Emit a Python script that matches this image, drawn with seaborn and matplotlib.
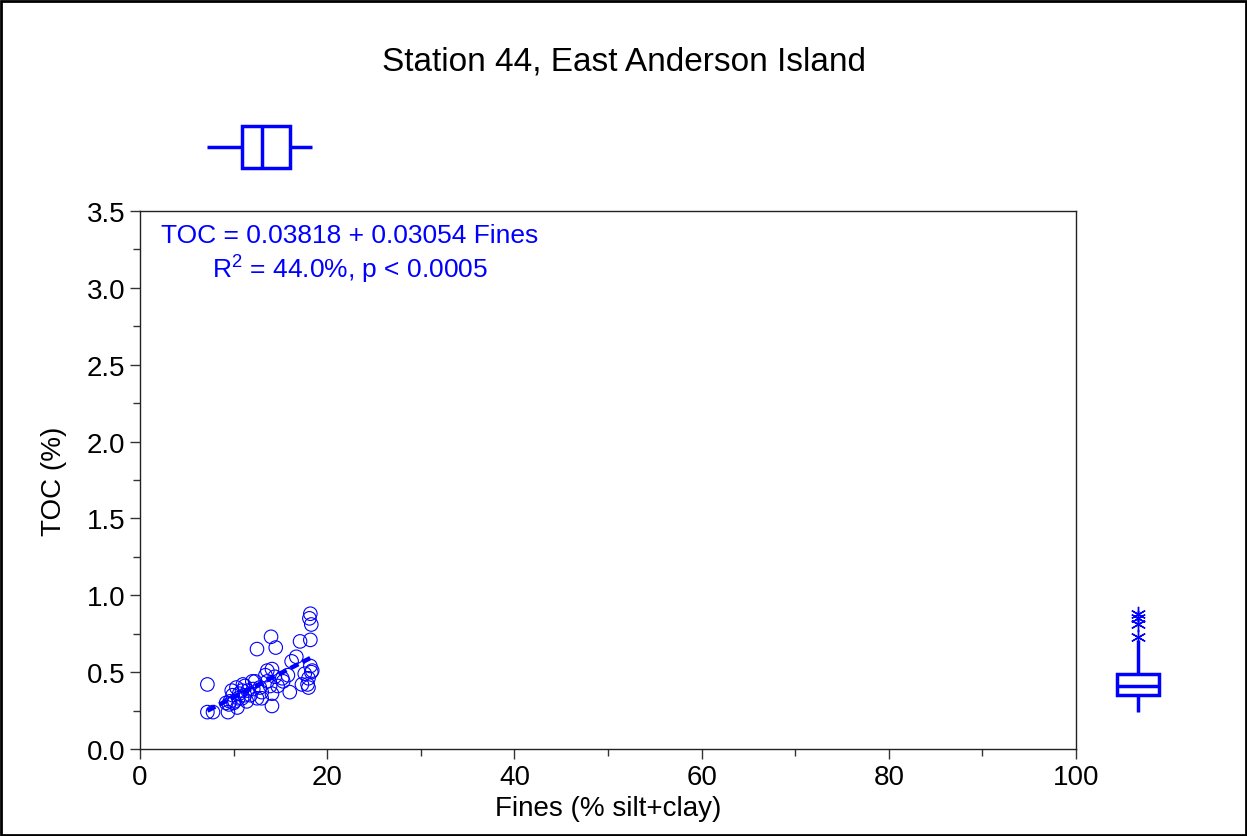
import numpy as np
import pandas as pd
import matplotlib
matplotlib.use("Agg")
import matplotlib.pyplot as plt
from matplotlib.ticker import MultipleLocator, FormatStrFormatter
from matplotlib.patches import Rectangle
import seaborn as sns

# Fines (% silt+clay) and TOC (%)
fines = [18.2, 18.1, 18.3, 18.2, 17.1, 14.0, 14.5, 12.5, 16.7, 16.2,
         18.2, 18.3, 18.0, 18.0, 13.6, 14.1, 7.2, 17.3, 16.0, 14.1,
         14.1, 7.2, 7.8, 9.4, 10.4, 10.5, 11.2, 11.5, 12.0, 12.3,
         13.0, 13.0, 12.8, 15.2, 14.7, 15.3, 11.2, 10.9, 9.9, 9.6,
         10.1, 11.8, 13.9, 14.4, 17.6, 18.4, 17.9, 13.4, 13.6, 12.1,
         12.5, 11.4, 10.9, 15.8, 9.5, 9.8, 10.3, 10.6, 11.0, 9.2,
         10.0]
toc = [0.88, 0.85, 0.81, 0.71, 0.70, 0.73, 0.66, 0.65, 0.60, 0.57,
       0.54, 0.50, 0.46, 0.40, 0.51, 0.52, 0.42, 0.42, 0.37, 0.28,
       0.36, 0.24, 0.24, 0.24, 0.27, 0.33, 0.35, 0.38, 0.44, 0.44,
       0.37, 0.33, 0.40, 0.46, 0.41, 0.44, 0.41, 0.38, 0.35, 0.31,
       0.31, 0.35, 0.41, 0.47, 0.49, 0.51, 0.42, 0.48, 0.44, 0.39,
       0.33, 0.31, 0.33, 0.48, 0.29, 0.38, 0.40, 0.36, 0.42, 0.30,
       0.30]

df = pd.DataFrame({"Fines": fines, "TOC": toc})

title = "Station 44, East Anderson Island"
eq_text = "TOC = 0.03818 + 0.03054 Fines"
r2_text = "R$^2$ = 44.0%, p < 0.0005"
blue = "#0000FF"

sns.set_theme(style="ticks")
plt.rcParams["font.family"] = ["Liberation Sans", "DejaVu Sans"]
plt.rcParams["mathtext.fontset"] = "custom"
plt.rcParams["mathtext.rm"] = "Liberation Sans"
plt.rcParams["text.color"] = "black"
plt.rcParams["axes.labelcolor"] = "black"
plt.rcParams["xtick.color"] = "black"
plt.rcParams["ytick.color"] = "black"

W, H = 1247, 837
fig = plt.figure(figsize=(W / 100, H / 100), dpi=100)
fig.patch.set_facecolor("white")

def box(l, t, r, b):
    return [l / W, 1 - b / H, (r - l) / W, (b - t) / H]

ax = fig.add_axes(box(140, 212, 1076, 750))
ax_top = fig.add_axes(box(140, 118, 1076, 178), sharex=ax)
ax_right = fig.add_axes(box(1108, 212, 1168, 750), sharey=ax)

# main scatter + fitted line
sns.scatterplot(data=df, x="Fines", y="TOC", ax=ax, marker="o", s=95,
                facecolors="none", edgecolor=blue, linewidth=0.8, legend=False)
sns.regplot(data=df, x="Fines", y="TOC", ax=ax, scatter=False, ci=None,
            truncate=True, color=blue,
            line_kws={"linestyle": (0, (2, 1)), "linewidth": 3.2})

ax.set_xlim(0, 100)
ax.set_ylim(0, 3.5)
ax.xaxis.set_major_locator(MultipleLocator(20))
ax.xaxis.set_minor_locator(MultipleLocator(10))
ax.yaxis.set_major_locator(MultipleLocator(0.5))
ax.yaxis.set_minor_locator(MultipleLocator(0.25))
ax.yaxis.set_major_formatter(FormatStrFormatter("%.1f"))
ax.tick_params(which="major", length=7, width=1, labelsize=20, color="#333333")
ax.tick_params(which="minor", length=5, width=1, color="#333333")
ax.set_xlabel("Fines (% silt+clay)", fontsize=20, labelpad=4)
ax.set_ylabel("TOC (%)", fontsize=20, labelpad=14)
for sp in ax.spines.values():
    sp.set_visible(True)
    sp.set_color("#222222")
    sp.set_linewidth(1)

ax.text(0.224, 0.955, eq_text, transform=ax.transAxes, ha="center", va="center",
        fontsize=19, color=blue)
ax.text(0.224, 0.895, r2_text, transform=ax.transAxes, ha="center", va="center",
        fontsize=19, color=blue)

# marginal boxplots
bp_props = dict(
    boxprops={"facecolor": "white", "edgecolor": blue, "linewidth": 2.5},
    whiskerprops={"color": blue, "linewidth": 2.5},
    capprops={"linewidth": 0},
    medianprops={"color": blue, "linewidth": 2.5},
    flierprops={"marker": (6, 2, 0), "markeredgecolor": blue,
                "markersize": 11, "markeredgewidth": 1},
)
sns.boxplot(x=df["Fines"], ax=ax_top, orient="h", width=0.7, whis=1.5, **bp_props)
ax_top.set_axis_off()

sns.boxplot(y=df["TOC"], ax=ax_right, orient="v", width=0.7, whis=1.6, **bp_props)
ax_right.set_axis_off()
ax_right.set_xlim(-0.5, 0.5)

fig.text(0.5, 1 - 62 / H, title, ha="center", va="center", fontsize=24)

fig.add_artist(Rectangle((0.001, 0.001), 0.998, 0.997, transform=fig.transFigure,
                         fill=False, edgecolor="black", linewidth=2))

fig.savefig("out.png", dpi=100)
